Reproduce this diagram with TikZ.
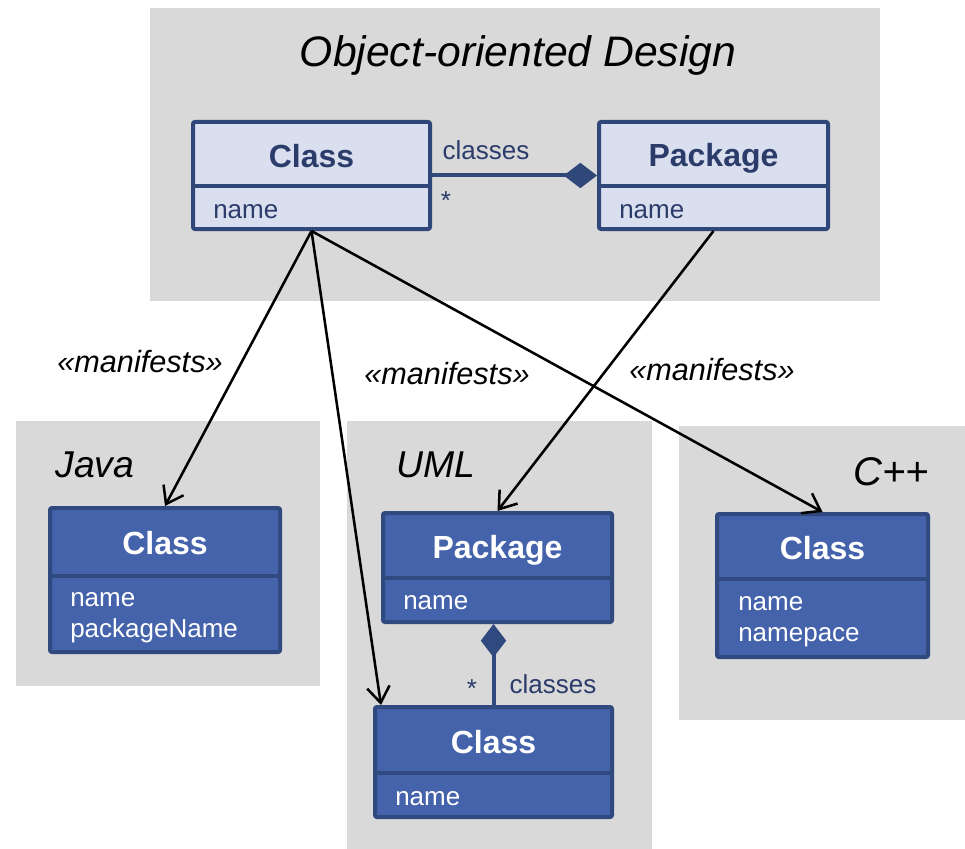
\documentclass[tikz,border=0pt]{standalone}
\usepackage{fontspec}
\setmainfont{Liberation Sans}
\usetikzlibrary{arrows.meta,fit,calc}
\definecolor{panelgray}{HTML}{D9D9D9}
\definecolor{lightfill}{HTML}{D9DFEF}
\definecolor{navy}{HTML}{2F4879}
\definecolor{navytext}{HTML}{2B3B6A}
\definecolor{bluefill}{HTML}{4563AB}
\definecolor{blueedge}{HTML}{30497F}
\begin{document}
\begin{tikzpicture}[x=0.75pt,y=-0.75pt,
  panel/.style={fill=panelgray,draw=none},
  lightbox/.style={draw=navy,fill=lightfill,line width=3pt,rounded corners=1.5pt,inner sep=0pt},
  bluebox/.style={draw=blueedge,fill=bluefill,line width=3pt,rounded corners=1.5pt,inner sep=0pt},
  lightsep/.style={draw=navy,line width=3pt},
  bluesep/.style={draw=blueedge,line width=3pt},
  ltitle/.style={font=\fontsize{24}{28}\selectfont\bfseries,text=navytext,inner sep=0pt},
  lattr/.style={font=\fontsize{19.5}{23.3}\selectfont,text=navytext,anchor=west,inner sep=0pt,align=left},
  btitle/.style={font=\fontsize{24}{28}\selectfont\bfseries,text=white,inner sep=0pt},
  battr/.style={font=\fontsize{19.5}{23.3}\selectfont,text=white,anchor=west,inner sep=0pt,align=left},
  assoclabel/.style={font=\fontsize{19.5}{23}\selectfont,text=navytext,inner sep=0pt},
  stereo/.style={font=\fontsize{23}{27}\selectfont\itshape,inner sep=0pt},
  paneltitle/.style={font=\fontsize{28}{32}\selectfont\itshape,inner sep=0pt},
  dep/.style={-{Straight Barb[length=12pt,width=17pt]},line width=1.9pt,black},
  compose/.style={line width=3pt,navy,{Diamond[length=25pt,width=19pt]}-}
]
\useasboundingbox (0,0) rectangle (965,849);

% background panels
\fill[panel] (150,8) rectangle (880,301);
\fill[panel] (16,421) rectangle (320,686);
\fill[panel] (347,421) rectangle (652,849);
\fill[panel] (679,426) rectangle (965,720);

% panel titles
\node[paneltitle,font=\fontsize{32}{36}\selectfont\itshape] (tdesign) at (518,55) {Object-oriented Design};
\node[paneltitle] (tjava) at (95,465) {Java};
\node[paneltitle] (tuml) at (436,465) {UML};
\node[paneltitle,font=\fontsize{30}{34}\selectfont\itshape] (tcpp) at (891,472) {C++};

% design model: Class
\node[lightbox,fit={(193,122) (430,229)}] (c1) {};
\draw[lightsep] (c1.west |- 0,186) -- (c1.east |- 0,186);
\node[ltitle] (c1t) at (311.5,156) {Class};
\node[lattr] (c1a) at (213,212) {name};

% design model: Package
\node[lightbox,fit={(599,122) (828,229)}] (p1) {};
\draw[lightsep] (p1.west |- 0,186) -- (p1.east |- 0,186);
\node[ltitle] (p1t) at (713.5,158) {Package};
\node[lattr] (p1a) at (619,212) {name};

% composition between them
\draw[compose] (p1.west) -- (c1.east);
\node[assoclabel] (l1) at (486,150) {classes};
\node[assoclabel] (m1) at (446,201) {*};

% Java model
\node[bluebox,fit={(50,508) (280,652)}] (jc) {};
\draw[bluesep] (jc.west |- 0,576) -- (jc.east |- 0,576);
\node[btitle] (jct) at (165,543) {Class};
\node[battr] (jca) at (70,618) {name\\packageName};

% UML model: Package
\node[bluebox,fit={(383,513) (612,622)}] (up) {};
\draw[bluesep] (up.west |- 0,578) -- (up.east |- 0,578);
\node[btitle] (upt) at (497.5,550) {Package};
\node[battr] (upa) at (403,603) {name};

% UML model: Class
\node[bluebox,fit={(375,707) (612,817)}] (uc) {};
\draw[bluesep] (uc.west |- 0,773) -- (uc.east |- 0,773);
\node[btitle] (uct) at (493.5,742) {Class};
\node[battr] (uca) at (395,799) {name};

% UML composition
\draw[compose,blueedge] (uc.north |- up.south) -- (uc.north);
\node[assoclabel] (l2) at (553,684) {classes};
\node[assoclabel] (m2) at (472,689) {*};

% C++ model
\node[bluebox,fit={(717,514) (928,657)}] (cc) {};
\draw[bluesep] (cc.west |- 0,579) -- (cc.east |- 0,579);
\node[btitle] (cct) at (822.5,548) {Class};
\node[battr] (cca) at (738,622) {name\\namepace};

% manifestation dependencies
\coordinate (ucin) at ($(uc.north west)+(8,0)$);
\draw[dep] (c1.south) -- (jc.north);
\draw[dep] (c1.south) -- (ucin);
\draw[dep] (c1.south) -- (cc.north);
\draw[dep] (p1.south) -- (up.north);

\node[stereo] (s1) at (140,362) {«manifests»};
\node[stereo] (s2) at (447,374) {«manifests»};
\node[stereo] (s3) at (712,370) {«manifests»};
\end{tikzpicture}
\end{document}
